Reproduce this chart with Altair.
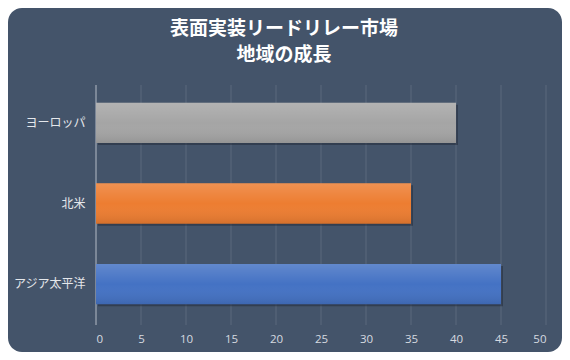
import altair as alt
import pandas as pd

regions = ["ヨーロッパ", "北米", "アジア太平洋"]
values = [40, 35, 45]
colors = ["#a5a5a5", "#ED7D31", "#4472C4"]
tick_values = [0, 5, 10, 15, 20, 25, 30, 35, 40, 45, 50]
title_lines = ["表面実装リードリレー市場", "地域の成長"]

bars_df = pd.DataFrame({"region": regions, "v": values})
grid_df = pd.DataFrame({"v": tick_values})
panel_df = pd.DataFrame({"a": [0]})

W, H = 450, 237
PAD = {"left": 88, "right": 16, "top": 77, "bottom": 30}

x_enc = alt.X(
    "v:Q",
    scale=alt.Scale(domain=[0, 50], nice=False),
    axis=alt.Axis(
        values=tick_values, title=None, grid=False, domain=False, ticks=False,
        labelColor="#d6dae0", labelFont="Open Sans", labelFontSize=11.5,
        labelPadding=11, zindex=1,
    ),
)
y_enc = alt.Y(
    "region:N",
    sort=regions,
    scale=alt.Scale(paddingInner=0.5, paddingOuter=0.22),
    axis=alt.Axis(
        title=None, domain=False, ticks=False, labelColor="#e4e7eb",
        labelFont="Noto Sans CJK JP", labelFontSize=12, labelPadding=11,
        zindex=1,
    ),
)

panel = alt.Chart(panel_df).mark_rect(color="#44546A", cornerRadius=14).encode(
    x=alt.value(-PAD["left"]), x2=alt.value(W + PAD["right"]),
    y=alt.value(-PAD["top"]), y2=alt.value(H + PAD["bottom"]),
)

grid = alt.Chart(grid_df).mark_rule(strokeWidth=1).encode(
    x=x_enc,
    y=alt.value(0),
    y2=alt.value(H + 3),
    color=alt.when(alt.datum.v == 0).then(alt.value("#b4bbc6")).otherwise(alt.value("#5a687d")),
)

shadow = alt.Chart(bars_df).mark_bar(color="#1c2430", opacity=0.45, xOffset=2, yOffset=2).encode(
    x=x_enc, y=y_enc,
)

bars = alt.Chart(bars_df).mark_bar().encode(
    x=x_enc, y=y_enc,
    color=alt.Color("region:N", scale=alt.Scale(domain=regions, range=colors), legend=None),
)

gloss = alt.Chart(bars_df).mark_bar(
    color=alt.Gradient(
        gradient="linear",
        stops=[
            alt.GradientStop(color="rgba(255,255,255,0.16)", offset=0),
            alt.GradientStop(color="rgba(255,255,255,0.0)", offset=0.5),
            alt.GradientStop(color="rgba(0,0,0,0.10)", offset=1),
        ],
        x1=0, x2=0, y1=0, y2=1,
    )
).encode(x=x_enc, y=y_enc)

chart = alt.layer(panel, grid, shadow, bars, gloss).properties(
    width=W, height=H,
    padding=PAD,
    autosize="none",
    background="white",
    title=alt.TitleParams(
        text=title_lines, anchor="middle", frame="group", dx=-37, offset=-57,
        color="white", font="Noto Sans CJK JP", fontSize=19, fontWeight="bold",
        lineHeight=26, zindex=1,
    ),
).configure_view(strokeWidth=0)

chart.save("out.html", embed_options={"renderer": "svg", "actions": False})
